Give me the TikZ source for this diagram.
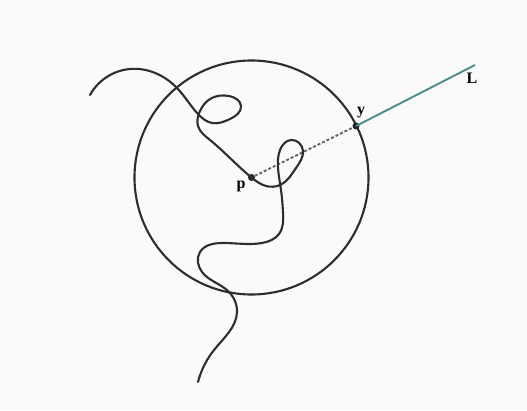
\documentclass[tikz,border=0pt]{standalone}
\usepackage{fontspec}
\setmainfont{Liberation Serif}
\usetikzlibrary{hobby}
\begin{document}
\begin{tikzpicture}[x=1pt,y=-1pt,
  curve/.style={line width=2.1pt,draw={rgb,255:red,45;green,45;blue,45},line cap=round,line join=round},
  dot/.style={circle,fill={rgb,255:red,35;green,35;blue,35},inner sep=0pt,minimum size=7pt},
  lbl/.style={font=\fontsize{16}{18}\selectfont\bfseries,inner sep=0pt}]
\fill[white!98!black] (0,0) rectangle (527,410);
\useasboundingbox (0,0) rectangle (527,410);
\coordinate (c) at (251.5,177.5);
\draw[curve] (c) circle[radius=117];
\node[dot] (p) at (251.5,177.5) {};
\node[dot] (y) at (356,126) {};
\coordinate (Lend) at (475,65);
\draw[line width=1.9pt,draw={rgb,255:red,100;green,100;blue,100},dash pattern=on 3pt off 2pt] (p) -- (y);
\draw[line width=1.9pt,draw={rgb,255:red,74;green,140;blue,140}] (y.center) -- (Lend);
\draw[curve] (90,95) to[curve through={(130,69) (177,88) (198,114) (212,123) (230,119) (241,106) (229,96) (210,99) (200,111) (198,126) (210,140) (231,159) (251.5,177.5) (266,186) (280,185) (296,168) (303,151) (291,140) (280,150) (278,168) (281,190) (283,212) (279,234) (262,243) (222,243) (200,252) (202,272) (228,291) (237,312) (214,350)}] (198,382);
\node[lbl] (plabel) at (241,186) {p};
\node[lbl] (ylabel) at (361,113) {y};
\node[lbl] (Llabel) at (472,78) {L};
\end{tikzpicture}
\end{document}
